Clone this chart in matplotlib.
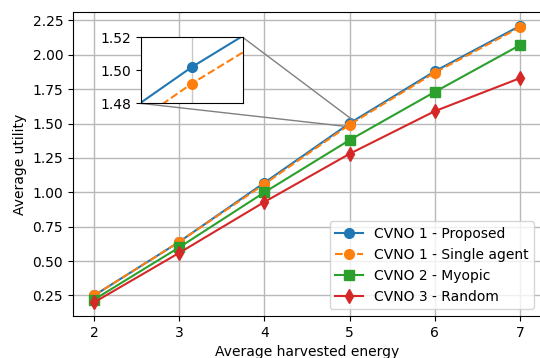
import matplotlib
matplotlib.use("Agg")
import matplotlib.pyplot as plt
from mpl_toolkits.axes_grid1.inset_locator import mark_inset

# energy levels and utilities
energy = [2, 3, 4, 5, 6, 7]
proposed = [0.25, 0.64, 1.07, 1.502, 1.88, 2.21]
single_agent = [0.25, 0.64, 1.06, 1.492, 1.87, 2.20]
myopic = [0.22, 0.60, 1.00, 1.38, 1.73, 2.07]
random_ = [0.20, 0.56, 0.93, 1.28, 1.59, 1.83]

labels = ["CVNO 1 - Proposed", "CVNO 1 - Single agent",
          "CVNO 2 - Myopic", "CVNO 3 - Random"]

fig = plt.figure(figsize=(5.4, 3.58), dpi=100)
ax = fig.add_axes([0.135, 0.117, 0.867, 0.849])


def draw(a):
    a.plot(energy, proposed, color="tab:blue", marker="o", ms=7, lw=1.5, label=labels[0])
    a.plot(energy, single_agent, color="tab:orange", marker="o", ms=7, lw=1.5, ls="--", label=labels[1])
    a.plot(energy, myopic, color="tab:green", marker="s", ms=7, lw=1.5, label=labels[2])
    a.plot(energy, random_, color="tab:red", marker="d", ms=7, lw=1.5, label=labels[3])


draw(ax)
ax.grid(True, color="#b8b8b8", lw=1.0)
ax.set_axisbelow(True)
ax.set_xlabel("Average harvested energy")
ax.set_ylabel("Average utility")
ax.set_yticks([0.25, 0.5, 0.75, 1.0, 1.25, 1.5, 1.75, 2.0, 2.25])
ax.legend(loc="lower right")

# zoomed inset around x=5
axins = ax.inset_axes([0.145, 0.70, 0.218, 0.217])
draw(axins)
axins.set_xlim(4.95, 5.05)
axins.set_ylim(1.48, 1.52)
axins.set_xticks([5])
axins.set_xticklabels([])
axins.tick_params(axis="x", length=0)
axins.set_yticks([1.48, 1.50, 1.52])
axins.grid(True, axis="x", color="#c8c8c8", lw=1.0)
axins.set_axisbelow(True)
mark_inset(ax, axins, loc1=1, loc2=3, fc="none", ec="0.5")

fig.savefig("out.png", dpi=100)
